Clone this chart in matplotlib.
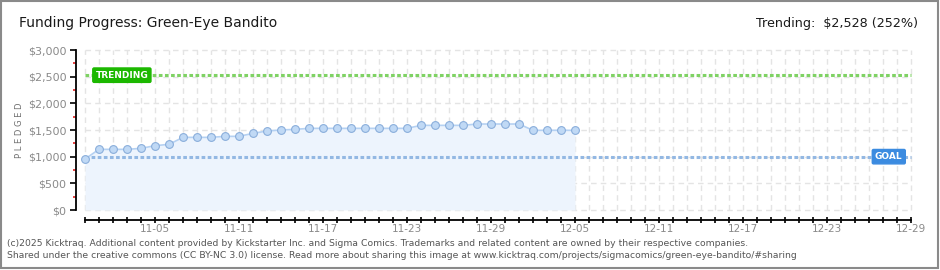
import matplotlib
matplotlib.use("Agg")
import matplotlib.pyplot as plt
import matplotlib.patches as mpatches
import datetime as dt

# ---- data ----
start_date = dt.date(2025, 10, 31)
n_days_axis = 59
pledged = [956, 1137, 1137, 1137, 1156, 1206, 1231, 1362, 1362, 1362, 1381, 1381,
           1437, 1481, 1500, 1512, 1531, 1531, 1531, 1531, 1531, 1531, 1531, 1531,
           1587, 1587, 1587, 1587, 1612, 1612, 1612, 1612, 1494, 1494, 1494, 1494]
goal = 1000
trending = 2528
y_ticks = [0, 500, 1000, 1500, 2000, 2500, 3000]
y_tick_labels = ["$0", "$500", "$1,000", "$1,500", "$2,000", "$2,500", "$3,000"]
label_every = 6
first_label_day = 5
title = "Funding Progress: Green-Eye Bandito"
trend_text = "Trending:  $2,528 (252%)"
footer1 = ("(c)2025 Kicktraq. Additional content provided by Kickstarter Inc. and Sigma Comics. "
           "Trademarks and related content are owned by their respective companies.")
footer2 = ("Shared under the creative commons (CC BY-NC 3.0) license. Read more about sharing this "
           "image at www.kicktraq.com/projects/sigmacomics/green-eye-bandito/#sharing")

days = list(range(len(pledged)))
all_days = list(range(n_days_axis + 1))
tick_labels = [(start_date + dt.timedelta(days=d)).strftime("%m-%d") if (d - first_label_day) % label_every == 0 and d >= first_label_day else "" for d in all_days]

W, H = 940, 270
fig = plt.figure(figsize=(W / 100, H / 100), dpi=100)
fig.patch.set_facecolor("white")

# frame border
fig.add_artist(mpatches.Rectangle((1 / W, 2 / H), 937 / W, 267 / H, transform=fig.transFigure,
                                  fill=False, edgecolor="#8a8a8a", linewidth=1.5))

# axes: px mapping x = 85 + 14*d, y($)=210 - v/18.75
ax_l, ax_r, ax_t, ax_b = 70, 920, 45, 226
ax = fig.add_axes([ax_l / W, 1 - ax_b / H, (ax_r - ax_l) / W, (ax_b - ax_t) / H])
ax.set_xlim((ax_l - 85) / 14.0, (ax_r - 85) / 14.0)
ax.set_ylim((210 - ax_b) * 18.75, (210 - ax_t) * 18.75)
ax.patch.set_alpha(0)

for s in ["top", "right"]:
    ax.spines[s].set_visible(False)
ax.spines["left"].set_position(("data", -9 / 14.0))
ax.spines["left"].set_bounds(0, 3000)
ax.spines["bottom"].set_position(("data", -10 * 18.75))
ax.spines["bottom"].set_bounds(0, n_days_axis)
ax.spines["left"].set_linewidth(1.3)
ax.spines["bottom"].set_linewidth(1.3)

# grid
grid_kw = dict(color="#e4e4e4", linewidth=1, linestyle=(0, (4, 3)), zorder=0)
ax.hlines(y_ticks, 0, n_days_axis, **grid_kw)
ax.vlines(all_days, 0, max(y_ticks), **grid_kw)

# area + line
ax.fill_between(days, pledged, 0, color="#edf4fd", zorder=1, linewidth=0)
ax.plot(days, pledged, color="#b5d1f2", linewidth=1.2, marker="o", markersize=5.6,
        markerfacecolor="#c0d9f5", markeredgecolor="#8aaedb", markeredgewidth=0.8, zorder=4)

# goal / trending lines
ax.hlines([goal], 0, n_days_axis, color="#93b8e3", linewidth=2.2, linestyle=(0, (1.2, 0.8)), zorder=3)
ax.hlines([trending], 0, n_days_axis, color="#7fd264", linewidth=2.2, linestyle=(0, (1.2, 0.8)), zorder=3)

ax.text(days[0] + 0.75, trending, "TRENDING", color="white", fontsize=6.5, fontweight="bold",
        va="center", ha="left", zorder=6,
        bbox=dict(boxstyle="round,pad=0.3,rounding_size=0.15", facecolor="#1cb800", edgecolor="#1cb800"))
ax.text(n_days_axis - 0.6, goal, "GOAL", color="white", fontsize=6.5, fontweight="bold",
        va="center", ha="right", zorder=6,
        bbox=dict(boxstyle="round,pad=0.3,rounding_size=0.15", facecolor="#3b8be0", edgecolor="#3b8be0"))

# ticks
ax.set_yticks(y_ticks)
ax.set_yticklabels(y_tick_labels)
ax.set_yticks([v + 250 for v in y_ticks[:-1]], minor=True)
ax.tick_params(axis="y", which="major", direction="out", length=4, width=1.2, colors="black",
               labelcolor="#8a8a8a", labelsize=8, pad=3)
ax.tick_params(axis="y", which="minor", direction="out", length=2.5, width=1.2, colors="#e02020")
ax.set_xticks(all_days)
ax.set_xticklabels(tick_labels)
ax.tick_params(axis="x", which="major", direction="inout", length=5, width=1.2, colors="black",
               labelcolor="#8a8a8a", labelsize=7.5, pad=0.5)

fig.text(20 / W, 1 - 130 / H, "P L E D G E D", rotation=90, fontsize=6, color="#707070",
         ha="center", va="center")

fig.text(19 / W, 1 - 23 / H, title, fontsize=10, color="#1a1a1a", ha="left", va="center")
fig.text(918 / W, 1 - 23 / H, trend_text, fontsize=9.2, color="#1a1a1a", ha="right", va="center")

fig.text(7 / W, 1 - 243 / H, footer1, fontsize=6.7, color="#555555", ha="left", va="center")
fig.text(7 / W, 1 - 256 / H, footer2, fontsize=6.7, color="#555555", ha="left", va="center")

fig.savefig("out.png", dpi=100, facecolor="white")
